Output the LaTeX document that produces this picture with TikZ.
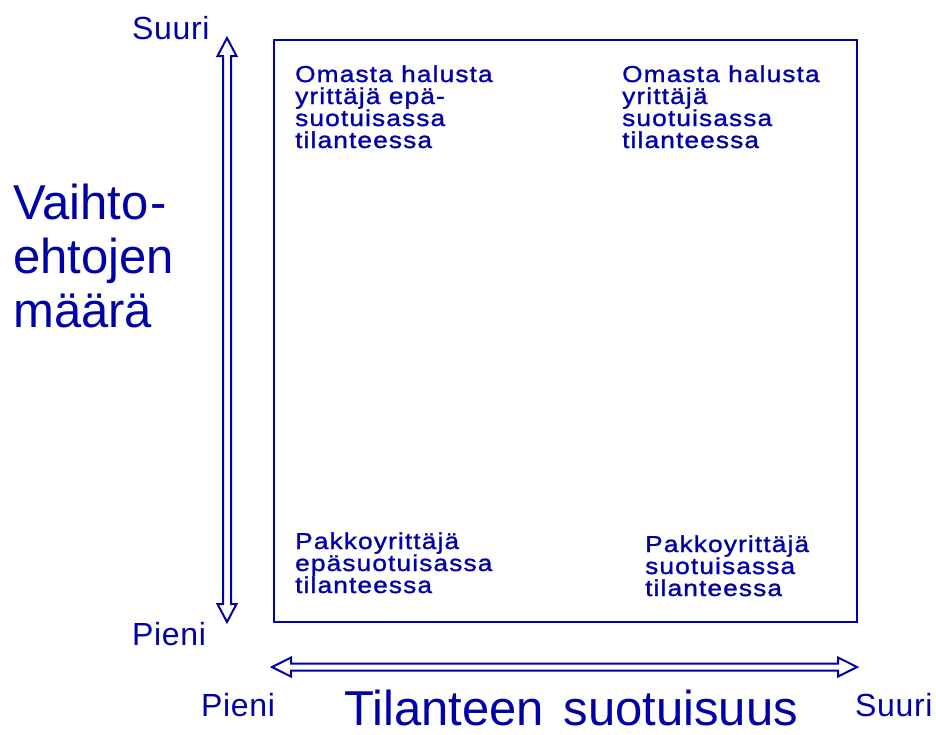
\documentclass[tikz,border=0pt]{standalone}
\usepackage{fontspec}
\setmainfont{Liberation Sans}
\newfontfamily\boxfont[FakeStretch=1.14,LetterSpace=5,FakeBold=1.2]{Liberation Sans}
\newfontfamily\axfont[LetterSpace=2]{Liberation Sans}
\definecolor{ink}{RGB}{0,0,168}
\newcommand\stackl[1]{\vtop{\baselineskip=22pt\lineskiplimit=-100pt\lineskip=0pt #1}}
\tikzset{
  lbl/.style={anchor=base west,inner sep=0pt,text=ink},
  boxlbl/.style={lbl,font=\boxfont\fontsize{23}{22}\selectfont},
  axlbl/.style={lbl,font=\axfont\fontsize{32}{32}\selectfont},
  biglbl/.style={lbl,font=\fontsize{49}{54}\selectfont},
  frame/.style={draw=ink,line width=2pt},
  dblarrow/.style={draw=ink,line width=2pt,line join=miter}
}
\begin{document}
\begin{tikzpicture}[x=1pt,y=-1pt]
\useasboundingbox (0,0) rectangle (936,734);
% frame
\node[frame,anchor=north west,minimum width=583pt,minimum height=582pt,inner sep=0pt] (box) at (273,39) {};
% vertical double arrow
\draw[dblarrow] (227,38) -- (217.5,56) -- (223,56) -- (223,604) -- (217.5,604) -- (227,622)
  -- (236.5,604) -- (231,604) -- (231,56) -- (236.5,56) -- cycle;
% horizontal double arrow
\draw[dblarrow] (272,667) -- (291,657.5) -- (291,663.5) -- (838,663.5) -- (838,657.5) -- (857,667)
  -- (838,676.5) -- (838,670.5) -- (291,670.5) -- (291,676.5) -- cycle;
% quadrant labels
\node[boxlbl] (tl) at (295,82) {\stackl{\hbox{Omasta halusta}\hbox{yrittäjä epä-}\hbox{suotuisassa}\hbox{tilanteessa}}};
\node[boxlbl] (tr) at (622,82) {\stackl{\hbox{Omasta halusta}\hbox{yrittäjä}\hbox{suotuisassa}\hbox{tilanteessa}}};
\node[boxlbl] (bl) at (295,549) {\stackl{\hbox{Pakkoyrittäjä}\hbox{epäsuotuisassa}\hbox{tilanteessa}}};
\node[boxlbl] (br) at (645,552) {\stackl{\hbox{Pakkoyrittäjä}\hbox{suotuisassa}\hbox{tilanteessa}}};
% axis end labels
\node[axlbl] (ysuuri) at (132,39) {Suuri};
\node[axlbl] (ypieni) at (132,645) {Pieni};
\node[axlbl] (xpieni) at (201,716) {Pieni};
\node[axlbl] (xsuuri) at (855,716) {Suuri};
% axis titles
\node[biglbl] (ytitle) at (13,219) {\vtop{\baselineskip=54pt\lineskiplimit=-100pt\lineskip=0pt\hbox{Vaihto\kern2pt-}\hbox{ehtojen}\hbox{määrä}}};
\node[biglbl] (xtitle) at (344,725) {Tilanteen\hspace{6pt} suotuisuus};
\end{tikzpicture}
\end{document}
